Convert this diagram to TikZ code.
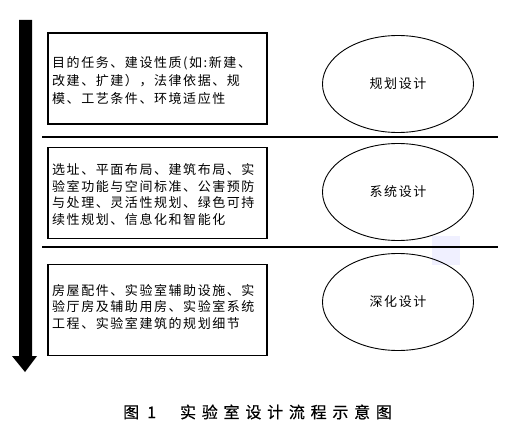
\documentclass[tikz,border=0pt]{standalone}
\usepackage{fontspec}
\setmainfont{Noto Sans CJK SC}
\newfontfamily\boxfont{Noto Sans CJK SC}[LetterSpace=12]
\newfontfamily\capfont{Noto Sans CJK SC}[LetterSpace=36,FakeBold=0.5]
\newfontfamily\capfontb{Noto Sans CJK SC}[FakeBold=0.5]
\usetikzlibrary{shapes.geometric}
\begin{document}
\begin{tikzpicture}[x=1pt,y=-1pt,
  boxframe/.style={draw, line width=1.6pt, minimum width=219pt, minimum height=91pt, inner sep=0pt},
  boxtext/.style={anchor=west, align=left, inner sep=0pt, font=\boxfont\fontsize{13}{16.5}\selectfont},
  stage/.style={ellipse, draw, line width=0.9pt, minimum width=151pt, minimum height=97pt, inner sep=0pt, font=\boxfont\fontsize{13}{16}\selectfont},
  sepline/.style={line width=2pt}]
\useasboundingbox (0,0) rectangle (509,444);
\fill[white] (0,0) rectangle (509,444);
% watermark
\fill[blue!6] (432,236) rectangle (460,265);
% arrow
\fill[black] (19,20) -- (32,20) -- (32,356) -- (37,356) -- (25,372) -- (12,356) -- (19,356) -- cycle;
% boxes
\node[boxframe] (b1) at (157.5,78.5) {};
\node[boxframe] (b2) at (157.5,193) {};
\node[boxframe] (b3) at (157.5,310) {};
\node[boxtext, font=\boxfont\fontsize{13}{18}\selectfont] (t1) at (52,81) {目的任务、建设性质(如:新建、\\改建、扩建），法律依据、规\\模、工艺条件、环境适应性};
\node[boxtext] (t2) at (52,194.5) {选址、平面布局、建筑布局、实\\验室功能与空间标准、公害预防\\与处理、灵活性规划、绿色可持\\续性规划、信息化和智能化};
\node[boxtext] (t3) at (52,306.5) {房屋配件、实验室辅助设施、实\\验厅房及辅助用房、实验室系统\\工程、实验室建筑的规划细节};
% separators
\coordinate (l1a) at (42,137); \coordinate (l1b) at (498,137);
\coordinate (l2a) at (42,247); \coordinate (l2b) at (498,247);
\draw[sepline] (l1a) -- (l1b);
\draw[sepline] (l2a) -- (l2b);
% stages
\node[stage] (e1) at (398,84) {规划设计};
\node[stage] (e2) at (398,192) {系统设计};
\node[stage] (e3) at (398,302) {深化设计};
% caption
\node[anchor=west, inner sep=0pt, font=\capfontb\fontsize{16}{16}\selectfont] (cap) at (123,412) {图\hspace{8pt}1\hspace{24pt}{\capfont 实验室设计流程示意图}};
\end{tikzpicture}
\end{document}
